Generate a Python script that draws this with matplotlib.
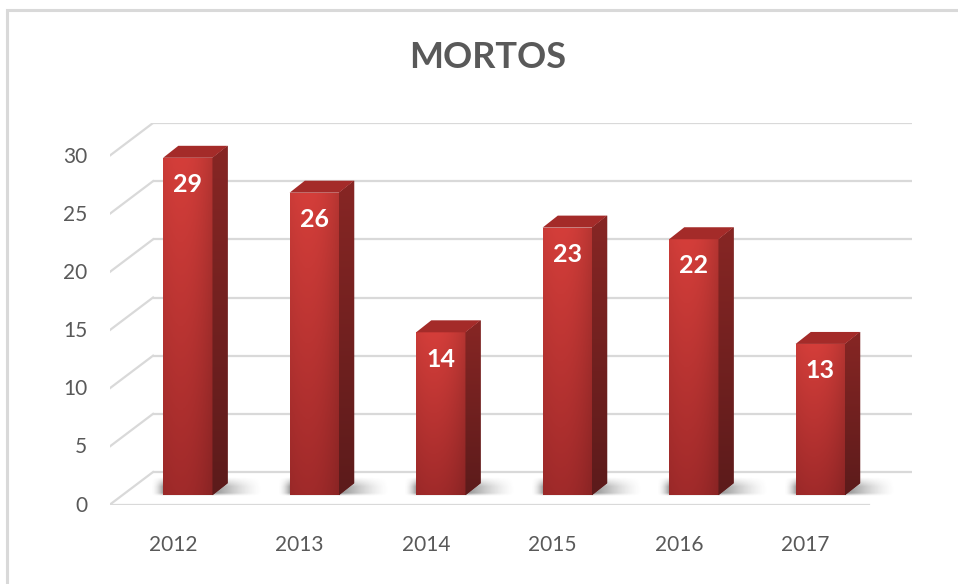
import numpy as np
import matplotlib.pyplot as plt
from matplotlib.patches import Polygon, Rectangle

# data
years = ['2012', '2013', '2014', '2015', '2016', '2017']
deaths = [29, 26, 14, 23, 22, 13]
y_ticks = [0, 5, 10, 15, 20, 25, 30]
title = 'MORTOS'

plt.rcParams['font.family'] = ['Lato', 'DejaVu Sans']

W, H = 958, 584
fig = plt.figure(figsize=(W / 100, H / 100), dpi=100)
ax = fig.add_axes([110 / W, 1 - 504.5 / H, 802 / W, 381.5 / H])
ax.axis('off')

# fake 3d geometry (data units)
depth_x, depth_y = 0.34, 2.79      # floor / wall depth
bar_dx, bar_dy = 0.115, 0.8        # bar front plane offset
bar_w = 0.39
side_dx, side_dy = 0.12, 1.03      # bar depth
grid_c = '#d9d9d9'

x0, x1 = -0.5, len(years) - 0.5

# walls: back gridlines + side wall lines
for t in y_ticks:
    ax.plot([x0 + depth_x, x1 + depth_x], [t + depth_y, t + depth_y],
            color=grid_c, lw=1.6, zorder=1, solid_capstyle='butt')
    ax.plot([x0, x0 + depth_x], [t, t + depth_y], color=grid_c, lw=1.6, zorder=1)
ax.plot([x0, x1], [0, 0], color=grid_c, lw=1.6, zorder=1)


def grad_img(top, bot, n=120, m=30, shade=0.0):
    t = np.linspace(0, 1, n)[:, None, None]
    top = np.array(top)[None, None, :] / 255
    bot = np.array(bot)[None, None, :] / 255
    img = top * (1 - t) + bot * t
    u = np.linspace(0, 1, m)[None, :, None]
    img = img * (1 - shade * (u - 0.35) ** 2)
    return np.clip(np.broadcast_to(img, (n, m, 3)), 0, 1)


def shadow_img(n=40, m=80):
    # soft dark blob, darkest right behind the bar foot, fading outwards
    yy = np.linspace(1, 0, n)[:, None]        # 1 = top row
    xx = np.linspace(0, 1, m)[None, :]
    fx = np.clip(xx / 0.12, 0, 1) ** 2 * np.clip((1 - xx) / 0.45, 0, 1) ** 1.5
    fy = np.clip((1 - yy) / 0.5, 0, 1) * np.clip(yy / 0.15, 0, 1)
    img = np.zeros((n, m, 4))
    img[..., :3] = 0.25
    img[..., 3] = 0.6 * fx * fy
    return img


front_img = grad_img((212, 62, 58), (160, 42, 42), shade=0.35)
side_img = grad_img((135, 38, 36), (92, 27, 27))
sh_img = shadow_img()

for i, v in enumerate(deaths):
    xl = i + bar_dx - bar_w / 2
    xr = i + bar_dx + bar_w / 2
    yb = bar_dy
    yt = v + bar_dy

    # floor shadow
    ax.imshow(sh_img, extent=[xl - 0.1, xr + side_dx + 0.28, yb - 0.05, yb + side_dy + 0.5],
              aspect='auto', zorder=2, interpolation='bilinear')

    # front face
    bars = ax.bar(i + bar_dx, v, width=bar_w, bottom=bar_dy, color='#b83230', zorder=3)
    im = ax.imshow(front_img, extent=[xl, xr, yb, yt], aspect='auto', zorder=3.5)
    im.set_clip_path(bars[0])

    # side face
    side = Polygon([(xr, yb), (xr + side_dx, yb + side_dy), (xr + side_dx, yt + side_dy), (xr, yt)],
                   closed=True, fc='#6e1f1f', ec='none', zorder=3)
    ax.add_patch(side)
    im2 = ax.imshow(side_img, extent=[xr, xr + side_dx, yb, yt + side_dy], aspect='auto', zorder=3.5)
    im2.set_clip_path(side)

    # top face
    top = Polygon([(xl, yt), (xl + side_dx, yt + side_dy), (xr + side_dx, yt + side_dy), (xr, yt)],
                  closed=True, fc='#a42b29', ec='none', zorder=4)
    ax.add_patch(top)

    ax.text(i + bar_dx, v + bar_dy - 2.3, str(v), color='white', fontsize=18,
            fontweight='bold', ha='center', va='center', zorder=5)

# axis labels
for t in y_ticks:
    ax.text(x0 - 0.18, t - 0.1, str(t), ha='right', va='center', fontsize=15,
            color='#595959', clip_on=False)
for i, y in enumerate(years):
    ax.text(i, -3.5, y, ha='center', va='center', fontsize=15, color='#595959', clip_on=False)

ax.set_xlim(x0, x1 + depth_x)
ax.set_ylim(0, 30 + depth_y)

fig.text(488 / W, 1 - 57 / H, title, ha='center', va='center', fontsize=26,
         fontweight='bold', color='#595959')

# chart border
fig.add_artist(Rectangle((6.5 / W, -0.1), 1.2, 1.1 - 10 / H, transform=fig.transFigure,
                         fill=False, ec='#d9d9d9', lw=2.2))

fig.savefig('out.png', dpi=100, facecolor='white')
